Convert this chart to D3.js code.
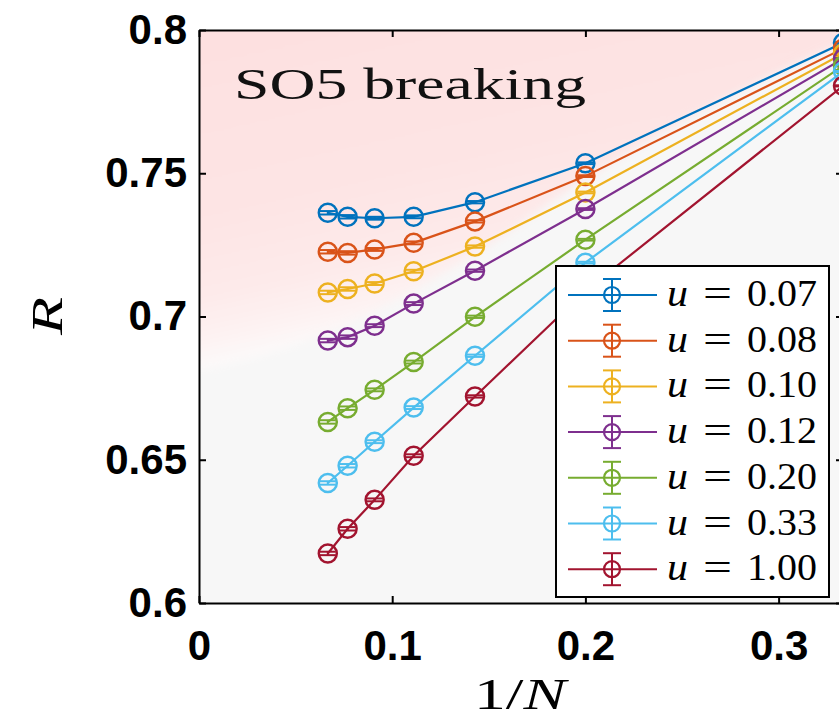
<!DOCTYPE html>
<html>
<head>
<meta charset="utf-8">
<script src="https://cdn.jsdelivr.net/npm/d3@7"></script>
<style>
  html, body { margin: 0; padding: 0; background: #ffffff; overflow: hidden; }
  svg { display: block; }
</style>
</head>
<body>
<svg id="chart" width="839" height="721"></svg>
<script>
// System sizes N; the horizontal axis shows 1/N
const sizes = [15, 13, 11, 9, 7, 5, 3];

// Series labels and colours
const uLabels = ["0.07", "0.08", "0.10", "0.12", "0.20", "0.33", "1.00"];
const colors  = ["#0072BD", "#D95319", "#EDB120", "#7E2F8E", "#77AC30", "#4DBEEE", "#A2142F"];

// Ratio R for each u, ordered like `sizes`
const R_u007 = [0.7362, 0.7348, 0.7343, 0.7348, 0.7399, 0.7535, 0.7955];
const R_u008 = [0.7226, 0.7222, 0.7234, 0.7257, 0.7332, 0.7490, 0.7935];
const R_u010 = [0.7084, 0.7096, 0.7115, 0.7158, 0.7244, 0.7433, 0.7918];
const R_u012 = [0.6916, 0.6928, 0.6968, 0.7045, 0.7160, 0.7375, 0.7900];
const R_u020 = [0.6632, 0.6680, 0.6744, 0.6841, 0.6999, 0.7268, 0.7875];
const R_u033 = [0.6419, 0.6479, 0.6563, 0.6682, 0.6863, 0.7188, 0.7855];
const R_u100 = [0.6173, 0.6259, 0.6360, 0.6514, 0.6721, 0.7089, 0.7805];

// Statistical errors of R
const E_u007 = [0.0006, 0.0006, 0.0005, 0.0005, 0.0004, 0.0003, 0.0002];
const E_u008 = [0.0006, 0.0006, 0.0005, 0.0005, 0.0004, 0.0003, 0.0002];
const E_u010 = [0.0006, 0.0006, 0.0005, 0.0005, 0.0004, 0.0003, 0.0002];
const E_u012 = [0.0006, 0.0006, 0.0005, 0.0005, 0.0004, 0.0003, 0.0002];
const E_u020 = [0.0006, 0.0006, 0.0005, 0.0005, 0.0004, 0.0003, 0.0002];
const E_u033 = [0.0006, 0.0006, 0.0005, 0.0005, 0.0004, 0.0003, 0.0002];
const E_u100 = [0.0006, 0.0006, 0.0005, 0.0005, 0.0004, 0.0003, 0.0002];

const seriesR   = [R_u007, R_u008, R_u010, R_u012, R_u020, R_u033, R_u100];
const seriesErr = [E_u007, E_u008, E_u010, E_u012, E_u020, E_u033, E_u100];

// Tick values and labels
const xTicks = [0, 0.1, 0.2, 0.3];
const xTickLabels = ["0", "0.1", "0.2", "0.3"];
const yTicks = [0.6, 0.65, 0.7, 0.75, 0.8];
const yTickLabels = ["0.6", "0.65", "0.7", "0.75", "0.8"];

// Lower edge of the shaded "SO5 breaking" region (1/N, R)
const regionX = [-0.03, 0, 0.05, 0.1, 0.15, 0.2, 0.25, 0.3333, 0.37];
const regionR = [0.678, 0.681, 0.690, 0.705, 0.725, 0.748, 0.768, 0.795, 0.805];

const svg = d3.select("#chart");
const pLeft = 199, pRight = 843, pTop = 30, pBottom = 603;

const x = d3.scaleLinear().domain([0, 1 / 3]).range([pLeft, pRight]);
const y = d3.scaleLinear().domain([0.6, 0.8]).range([pBottom, pTop]);

const defs = svg.append("defs");
defs.append("clipPath").attr("id", "plotClip")
  .append("rect").attr("x", pLeft).attr("y", pTop)
  .attr("width", pRight - pLeft).attr("height", pBottom - pTop);

const grad = defs.append("linearGradient").attr("id", "pinkGrad")
  .attr("gradientUnits", "userSpaceOnUse")
  .attr("x1", pLeft).attr("y1", pTop).attr("x2", pLeft + 70).attr("y2", pTop + 320);
[[0, "#fde0e0"], [0.55, "#fde4e4"], [0.8, "#fdeaea"], [0.95, "#fdf4f4"], [1, "#fcf9f9"]].forEach(s =>
  grad.append("stop").attr("offset", s[0]).attr("stop-color", s[1]));

const blur = defs.append("filter").attr("id", "soft")
  .attr("x", "-10%").attr("y", "-10%").attr("width", "120%").attr("height", "120%");
blur.append("feGaussianBlur").attr("stdDeviation", 4);

// Plot background
const plot = svg.append("g").attr("clip-path", "url(#plotClip)");
plot.append("rect").attr("x", pLeft).attr("y", pTop)
  .attr("width", pRight - pLeft).attr("height", pBottom - pTop)
  .attr("fill", "#f7f7f7");

const regionArea = d3.area()
  .x(d => x(d[0]))
  .y0(pTop - 20)
  .y1(d => y(d[1]))
  .curve(d3.curveMonotoneX);
plot.append("path")
  .datum(regionX.map((v, i) => [v, regionR[i]]))
  .attr("d", regionArea)
  .attr("fill", "url(#pinkGrad)")
  .attr("filter", "url(#soft)");

// Region label
svg.append("text")
  .attr("x", 234).attr("y", 99)
  .attr("font-family", "'Liberation Serif', 'DejaVu Serif', serif")
  .attr("font-size", 45)
  .attr("textLength", 352).attr("lengthAdjust", "spacingAndGlyphs")
  .attr("fill", "#111")
  .text("SO5 breaking");

// Series
const line = d3.line().x(d => x(d.x)).y(d => y(d.r));
const capHalf = 8;
seriesR.forEach((vals, si) => {
  const pts = vals.map((r, i) => ({ x: 1 / sizes[i], r: r, e: seriesErr[si][i] }));
  const g = svg.append("g").attr("stroke", colors[si]).attr("fill", "none");
  g.append("path").datum(pts).attr("d", line).attr("stroke-width", 2.2);
  const eb = g.selectAll(".eb").data(pts).join("g");
  eb.append("line")
    .attr("x1", d => x(d.x)).attr("x2", d => x(d.x))
    .attr("y1", d => y(d.r - d.e)).attr("y2", d => y(d.r + d.e))
    .attr("stroke-width", 2);
  eb.append("line")
    .attr("x1", d => x(d.x) - capHalf).attr("x2", d => x(d.x) + capHalf)
    .attr("y1", d => y(d.r - d.e)).attr("y2", d => y(d.r - d.e))
    .attr("stroke-width", 2);
  eb.append("line")
    .attr("x1", d => x(d.x) - capHalf).attr("x2", d => x(d.x) + capHalf)
    .attr("y1", d => y(d.r + d.e)).attr("y2", d => y(d.r + d.e))
    .attr("stroke-width", 2);
  eb.append("circle")
    .attr("cx", d => x(d.x)).attr("cy", d => y(d.r))
    .attr("r", 9).attr("stroke-width", 2.5);
});

// Axes (ticks point inward, box on all four sides)
const tickFont = "'Liberation Sans', Arial, sans-serif";
const axL = svg.append("g").attr("transform", `translate(${pLeft},0)`)
  .call(d3.axisLeft(y).tickValues(yTicks).tickFormat((d, i) => yTickLabels[i])
    .tickSizeInner(-7).tickSizeOuter(0).tickPadding(12));
const axB = svg.append("g").attr("transform", `translate(0,${pBottom})`)
  .call(d3.axisBottom(x).tickValues(xTicks).tickFormat((d, i) => xTickLabels[i])
    .tickSizeInner(-7).tickSizeOuter(0).tickPadding(27));
const axT = svg.append("g").attr("transform", `translate(0,${pTop})`)
  .call(d3.axisTop(x).tickValues(xTicks).tickFormat("")
    .tickSizeInner(-7).tickSizeOuter(0));
const axR = svg.append("g").attr("transform", `translate(${pRight},0)`)
  .call(d3.axisRight(y).tickValues(yTicks).tickFormat("")
    .tickSizeInner(-7).tickSizeOuter(0));
[axL, axB, axT, axR].forEach(a => {
  a.select(".domain").attr("stroke", "#000").attr("stroke-width", 2);
  a.selectAll(".tick line").attr("stroke", "#000").attr("stroke-width", 2);
  a.selectAll(".tick text")
    .attr("font-family", tickFont).attr("font-size", 42)
    .attr("font-weight", "bold").attr("fill", "#000");
});

// Axis titles
const xTitle = svg.append("text")
  .attr("x", 520).attr("y", 709).attr("text-anchor", "middle")
  .attr("font-family", "'Liberation Serif', 'DejaVu Serif', serif")
  .attr("font-size", 45)
  .attr("textLength", 92).attr("lengthAdjust", "spacingAndGlyphs");
xTitle.append("tspan").text("1/");
xTitle.append("tspan").attr("font-style", "italic").text("N");

svg.append("text")
  .attr("transform", "translate(62,316) rotate(-90)")
  .attr("text-anchor", "middle")
  .attr("font-family", "'Liberation Serif', 'DejaVu Serif', serif")
  .attr("font-style", "italic").attr("font-size", 44)
  .attr("textLength", 38).attr("lengthAdjust", "spacingAndGlyphs")
  .text("R");

// Legend
const lg = svg.append("g");
lg.append("rect").attr("x", 556).attr("y", 266).attr("width", 273).attr("height", 331)
  .attr("fill", "#ffffff").attr("stroke", "#000").attr("stroke-width", 2);
const rowY = i => 295 + i * 45.7;
const legFont = "'Liberation Serif', 'DejaVu Serif', serif";
uLabels.forEach((lab, i) => {
  const cy = rowY(i);
  const g = lg.append("g").attr("stroke", colors[i]).attr("fill", "none").attr("stroke-width", 2);
  g.append("line").attr("x1", 568).attr("x2", 657).attr("y1", cy).attr("y2", cy);
  g.append("line").attr("x1", 612).attr("x2", 612).attr("y1", cy - 16).attr("y2", cy + 16);
  g.append("line").attr("x1", 603).attr("x2", 621).attr("y1", cy - 16).attr("y2", cy - 16);
  g.append("line").attr("x1", 603).attr("x2", 621).attr("y1", cy + 16).attr("y2", cy + 16);
  g.append("circle").attr("cx", 612).attr("cy", cy).attr("r", 8).attr("stroke-width", 2.2);
  lg.append("text").attr("x", 667).attr("y", cy + 11)
    .attr("font-family", legFont).attr("font-style", "italic").attr("font-size", 38)
    .attr("textLength", 21).attr("lengthAdjust", "spacingAndGlyphs").text("u");
  lg.append("text").attr("x", 703).attr("y", cy + 11)
    .attr("font-family", legFont).attr("font-size", 38)
    .attr("textLength", 29).attr("lengthAdjust", "spacingAndGlyphs").text("=");
  lg.append("text").attr("x", 747).attr("y", cy + 11)
    .attr("font-family", legFont).attr("font-size", 38)
    .attr("textLength", 70).attr("lengthAdjust", "spacingAndGlyphs").text(lab);
});
</script>
</body>
</html>
